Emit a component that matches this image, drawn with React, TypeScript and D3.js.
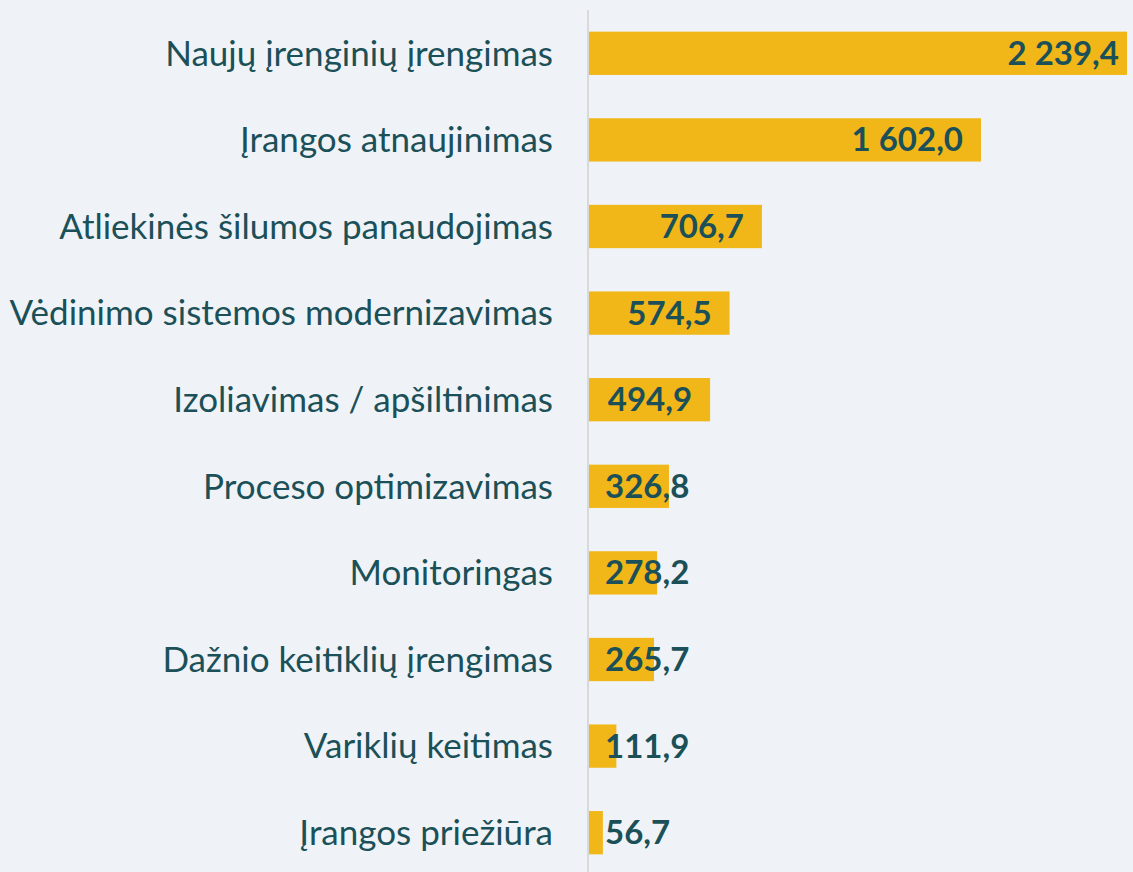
import React, { useEffect, useRef } from 'react';
import * as d3 from 'd3';

const categories = [
  'Naujų įrenginių įrengimas',
  'Įrangos atnaujinimas',
  'Atliekinės šilumos panaudojimas',
  'Vėdinimo sistemos modernizavimas',
  'Izoliavimas / apšiltinimas',
  'Proceso optimizavimas',
  'Monitoringas',
  'Dažnio keitiklių įrengimas',
  'Variklių keitimas',
  'Įrangos priežiūra',
];
const values = [2239.4, 1602.0, 706.7, 574.5, 494.9, 326.8, 278.2, 265.7, 111.9, 56.7];

const W = 1133;
const H = 872;

const fmt = (v: number) => {
  const [i, d] = v.toFixed(1).split('.');
  return i.replace(/\B(?=(\d{3})+(?!\d))/g, '\u00a0') + ',' + d;
};

const App = () => {
  const ref = useRef<SVGSVGElement>(null);

  useEffect(() => {
    const svg = d3.select(ref.current);
    svg.selectAll('*').remove();

    const x0 = 589;
    const xMax = 1127;
    // scale from the smaller bars; the top bar runs off the plot area
    const x = d3.scaleLinear().domain([0, 1602]).range([x0, 981]);
    const y = d3.scaleBand<string>()
      .domain(categories)
      .range([10, 876])
      .paddingInner(0.5)
      .paddingOuter(0.25);

    svg.append('rect')
      .attr('width', W).attr('height', H)
      .attr('fill', '#eff3f7');

    svg.append('line')
      .attr('x1', x0 - 1).attr('x2', x0 - 1)
      .attr('y1', 10).attr('y2', H)
      .attr('stroke', '#d9d9d9')
      .attr('stroke-width', 2);

    const font = 'Lato, "Open Sans", sans-serif';
    const color = '#1b5058';

    svg.selectAll('.bar')
      .data(values)
      .enter().append('rect')
      .attr('class', 'bar')
      .attr('x', x0)
      .attr('y', (d, i) => y(categories[i])!)
      .attr('width', d => Math.min(x(d), xMax) - x0)
      .attr('height', y.bandwidth())
      .attr('fill', '#f1b719');

    svg.selectAll('.cat')
      .data(categories)
      .enter().append('text')
      .attr('class', 'cat')
      .attr('x', 553)
      .attr('y', d => y(d)! + y.bandwidth() / 2)
      .attr('dy', '0.35em')
      .attr('text-anchor', 'end')
      .style('font-family', font)
      .style('font-size', '35px')
      .attr('fill', color)
      .text(d => d);

    const labels = svg.selectAll('.val')
      .data(values)
      .enter().append('text')
      .attr('class', 'val')
      .attr('y', (d, i) => y(categories[i])! + y.bandwidth() / 2)
      .attr('dy', '0.35em')
      .attr('text-anchor', 'start')
      .style('font-family', font)
      .style('font-size', '33px')
      .style('font-weight', 'bold')
      .attr('fill', color)
      .text(d => fmt(d));

    labels.each(function (d) {
      const el = this as SVGTextElement;
      const w = el.getComputedTextLength();
      const start = Math.max(x(d) - 18 - w, x0 + 16);
      d3.select(el).attr('x', start);
    });
  }, []);

  return (
    <svg
      ref={ref}
      width={W}
      height={H}
      style={{ position: 'absolute', left: 0, top: 0 }}
    />
  );
};

export default App;
